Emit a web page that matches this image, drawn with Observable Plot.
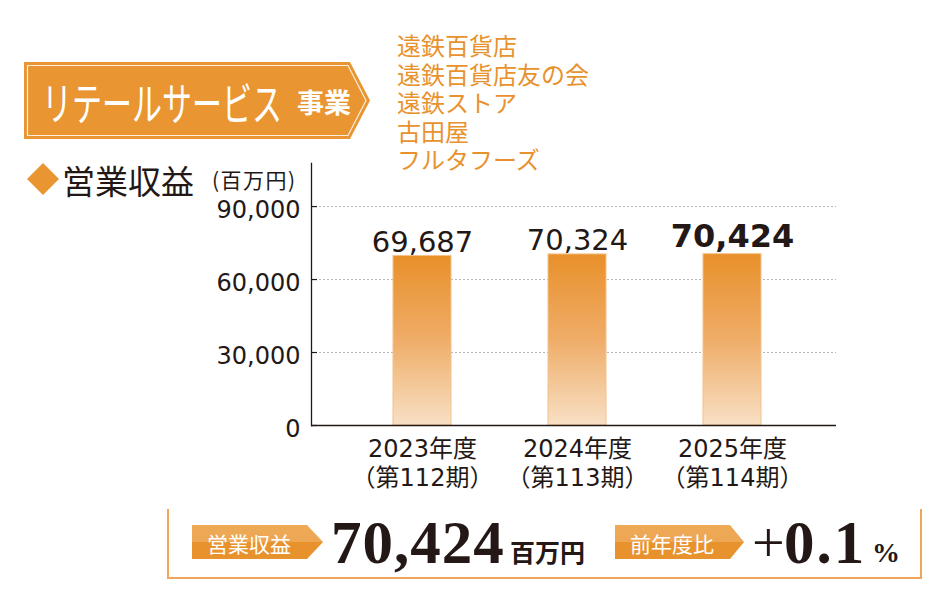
<!DOCTYPE html>
<html lang="ja">
<head>
<meta charset="utf-8">
<script src="https://cdn.jsdelivr.net/npm/d3@7"></script>
<script src="https://cdn.jsdelivr.net/npm/@observablehq/plot@0.6"></script>
<style>
  html, body { margin: 0; padding: 0; background: #fff; }
  #page { position: relative; width: 950px; height: 600px; overflow: hidden; font-family: "Noto Sans CJK JP", "Noto Sans", sans-serif; color: #231815; }
  #chart { position: absolute; left: 0; top: 0; }
  .abs { position: absolute; white-space: nowrap; }
  #companies { left: 397px; top: 31px; font-size: 24px; line-height: 28.5px; color: #E8922E; }
  #companies div { height: 28.5px; }
  #box { left: 167px; top: 509px; width: 751px; height: 68px; border: 2px solid #EFA65A; border-top: none; }
</style>
</head>
<body>
<div id="page">
  <div id="chart"></div>

  <!-- banner -->
  <svg class="abs" style="left:0;top:0" width="400" height="150">
    <polygon points="24,62 350,62 370,100.5 350,139 24,139" fill="#E99531"/>
    <polygon points="27.5,65.5 348,65.5 366,100.5 348,135.5 27.5,135.5" fill="none" stroke="#fff" stroke-width="1.2" opacity="0.85"/>
    <text id="segment" transform="translate(42,102) scale(1,1.5)" x="0" y="0" font-size="30" fill="#fff" dominant-baseline="central" font-family="Noto Sans CJK JP"></text>
    <text id="segmentSuffix" x="297" y="101" font-size="27" font-weight="bold" fill="#fff" dominant-baseline="central" font-family="Noto Sans CJK JP"></text>
  </svg>

  <div id="companies" class="abs"></div>

  <!-- section header -->
  <svg class="abs" style="left:0;top:150px" width="320" height="60">
    <polygon points="43,13 59,29 43,45 27,29" fill="#E99531"/>
    <text id="metric" x="62" y="30" font-size="33" fill="#231815" dominant-baseline="central" font-family="Noto Sans CJK JP"></text>
    <text id="unit" x="212" y="29" font-size="21" fill="#231815" dominant-baseline="central" letter-spacing="1.5" font-family="Noto Sans CJK JP"></text>
  </svg>

  <!-- summary box -->
  <div id="box" class="abs"></div>
  <svg class="abs" style="left:0;top:500px" width="950" height="100">
    <defs>
      <linearGradient id="pillGrad" x1="0" y1="0" x2="0" y2="1">
        <stop offset="0" stop-color="#EEAA58"/>
        <stop offset="0.5" stop-color="#EDA653"/>
        <stop offset="0.5" stop-color="#E8922D"/>
        <stop offset="1" stop-color="#E8922D"/>
      </linearGradient>
    </defs>
    <polygon points="192,25 307,25 323,42 307,59 192,59" fill="url(#pillGrad)"/>
    <text id="pill1" x="207" y="42.5" font-size="21" fill="#fff" dominant-baseline="central" font-family="Noto Sans CJK JP"></text>
    <text id="bigValue" x="331" y="63" font-size="61" font-weight="bold" fill="#231815" font-family="Liberation Serif" letter-spacing="1"></text>
    <text id="bigUnit" x="510" y="62" font-size="25" font-weight="bold" fill="#231815" font-family="Noto Sans CJK JP"></text>
    <polygon points="615,25 730,25 744,42 730,59 615,59" fill="url(#pillGrad)"/>
    <text id="pill2" x="630" y="42.5" font-size="21" fill="#fff" dominant-baseline="central" font-family="Noto Sans CJK JP"></text>
    <text id="chgSign" x="752" y="62" font-size="58" fill="#231815" font-family="Liberation Serif"></text>
    <text id="chgValue" x="784" y="63" font-size="61" font-weight="bold" fill="#231815" font-family="Liberation Serif" letter-spacing="2"></text>
    <text id="chgPct" x="872" y="62" font-size="28" font-weight="bold" fill="#231815" font-family="Liberation Serif"></text>
  </svg>
</div>

<script>
// ---- data ----
const segmentName = "リテールサービス";
const segmentSuffix = "事業";
const companies = ["遠鉄百貨店", "遠鉄百貨店友の会", "遠鉄ストア", "古田屋", "フルタフーズ"];
const metricName = "営業収益";
const unitLabel = "(百万円)";
const years = ["2023年度", "2024年度", "2025年度"];
const periods = ["（第112期）", "（第113期）", "（第114期）"];
const revenue = [69687, 70324, 70424];
const yTicks = [0, 30000, 60000, 90000];
const yMax = 107700;
const summaryUnit = "百万円";
const changeLabel = "前年度比";

// ---- texts ----
document.getElementById("segment").textContent = segmentName;
document.getElementById("segmentSuffix").textContent = segmentSuffix;
document.getElementById("companies").innerHTML = companies.map(c => `<div>${c}</div>`).join("");
document.getElementById("metric").textContent = metricName;
document.getElementById("unit").textContent = unitLabel;
document.getElementById("pill1").textContent = metricName;
document.getElementById("pill2").textContent = changeLabel;
const fmt = d3.format(",");
const last = revenue[revenue.length - 1], prev = revenue[revenue.length - 2];
document.getElementById("bigValue").textContent = fmt(last);
document.getElementById("bigUnit").textContent = summaryUnit;
const chg = (last - prev) / prev * 100;
document.getElementById("chgSign").textContent = chg >= 0 ? "+" : "−";
document.getElementById("chgValue").textContent = d3.format(".1f")(Math.abs(chg));
document.getElementById("chgPct").textContent = "%";

// ---- chart ----
const data = years.map((y, i) => ({year: y, period: periods[i], value: revenue[i], last: i === years.length - 1}));
const ink = "#231815";
const numFont = '"DejaVu Sans", "Noto Sans CJK JP", sans-serif';

const W = 950, H = 500, mL = 311, mR = 114, mT = 163, mB = 75, tickLen = 6;

const gradient = () => {
  const defs = d3.create("svg:defs");
  const g = defs.append("linearGradient").attr("id", "barGrad").attr("x1", 0).attr("y1", 0).attr("x2", 0).attr("y2", 1);
  g.append("stop").attr("offset", "0").attr("stop-color", "#E8902A");
  g.append("stop").attr("offset", "0.5").attr("stop-color", "#EFAD68");
  g.append("stop").attr("offset", "1").attr("stop-color", "#F8E0C5");
  return defs.node();
};

const chart = Plot.plot({
  width: W,
  height: H,
  marginLeft: mL,
  marginRight: mR,
  marginTop: mT,
  marginBottom: mB,
  style: {fontFamily: numFont, color: ink, background: "transparent", overflow: "visible"},
  x: {domain: years, padding: 0.627, paddingOuter: 0.5, align: 0.52, axis: null},
  y: {domain: [0, yMax], axis: null},
  marks: [
    gradient,
    Plot.gridY(yTicks.filter(d => d > 0), {stroke: "#b5b5b5", strokeOpacity: 1, strokeDasharray: "2,2"}),
    Plot.barY(data, {x: "year", y: "value", fill: "url(#barGrad)", stroke: "#F3C28C", strokeWidth: 1}),
    Plot.ruleY(yTicks, {stroke: ink, strokeWidth: 1.2, insetRight: (W - mL - mR) - tickLen}),
    Plot.axisY(yTicks, {label: null, tickSize: 0, tickPadding: 11, tickFormat: fmt, fontSize: 24, dy: 4, fill: ink}),
    Plot.frame({anchor: "left", stroke: ink, strokeWidth: 1.3}),
    Plot.ruleY([0], {stroke: ink, strokeWidth: 1.5}),
    Plot.text(data, {filter: d => !d.last, x: "year", y: "value", text: d => fmt(d.value), lineAnchor: "bottom", dy: -4, fontSize: 29, fill: ink}),
    Plot.text(data, {filter: d => d.last, x: "year", y: "value", text: d => fmt(d.value), lineAnchor: "bottom", dy: -7, fontSize: 32, fontWeight: "bold", fill: ink}),
    Plot.text(data, {x: "year", text: d => d.year + "\n" + d.period, frameAnchor: "bottom", lineAnchor: "top", dy: 11, lineHeight: 1.2, fontSize: 24, fill: ink})
  ]
});
document.getElementById("chart").appendChild(chart);
</script>
</body>
</html>
